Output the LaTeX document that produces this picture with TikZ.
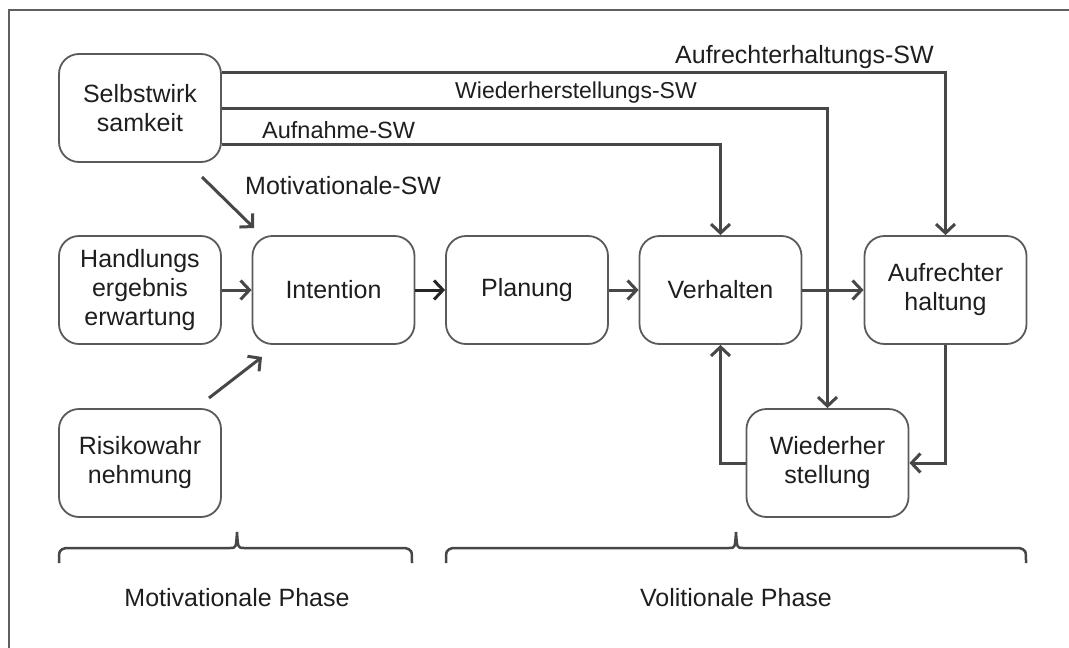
\documentclass[tikz,border=0pt]{standalone}
\usepackage{fontspec}
\setmainfont{Liberation Sans}
\usetikzlibrary{arrows.meta,calc}
\definecolor{linec}{HTML}{474747}
\definecolor{boxc}{HTML}{5A5A5A}
\definecolor{txtc}{HTML}{1E1E1E}
\definecolor{framec}{HTML}{606060}
\begin{document}
\begin{tikzpicture}[x=1pt,y=-1pt,
  box/.style={draw=boxc,line width=1.8pt,rounded corners=20pt,minimum width=162pt,minimum height=108pt,align=center,font=\fontsize{25}{29}\selectfont,text=txtc,inner sep=0pt},
  conn/.style={draw=linec,line width=3pt,-{Straight Barb[length=9pt,width=19pt]}},
  lbl/.style={font=\fontsize{25}{29}\selectfont,text=txtc,inner sep=0pt},
  phase/.style={font=\fontsize{25}{29}\selectfont,text=txtc,inner sep=0pt},
  brace/.style={draw=linec,line width=2.5pt}]
\useasboundingbox (0,0) rectangle (1069,648);
\draw[framec,line width=2pt] (9,648) -- (9,10) -- (1069,10);

\node[box] (sw) at (140,108) {Selbstwirk\\samkeit};
\node[box] (hand) at (140,290) {Handlungs\\ergebnis\\erwartung};
\node[box] (risk) at (140,463) {Risikowahr\\nehmung};
\node[box] (int) at (333.5,290) {Intention};
\node[box] (plan) at (527,290) {Planung};
\node[box] (verh) at (720.5,290) {Verhalten};
\node[box] (auf) at (945.5,290) {Aufrechter\\haltung};
\node[box] (wied) at (827.5,463) {Wiederher\\stellung};

% horizontal flow
\draw[conn] (hand) -- (int);
\draw[conn,draw=black!85] (int) -- (plan);
\draw[conn] (plan) -- (verh);
\draw[conn] (verh) -- (auf);

% self-efficacy lines
\draw[conn] ([yshift=36pt]sw.east) -| (auf.north);
\draw[conn] (sw.east) -| (wied.north);
\draw[conn] ([yshift=-36pt]sw.east) -| (verh.north);

% feedback
\draw[conn] (auf.south) |- (wied.east);
\draw[conn] (wied.west) -| (verh.south);

% diagonal arrows
\coordinate (msA) at (202,177);
\coordinate (msB) at (254,228);
\draw[conn] (msA) -- (msB);
\coordinate (rkA) at (209,398);
\coordinate (rkB) at (262,357);
\draw[conn] (rkA) -- (rkB);

% labels
\node[lbl,anchor=west] (lAuf) at (675,57) {Aufrechterhaltungs-SW};
\node[lbl,anchor=west,font=\fontsize{23}{27}\selectfont] (lWied) at (455,93) {Wiederherstellungs-SW};
\node[lbl,anchor=west,font=\fontsize{23.5}{27}\selectfont] (lAufn) at (262,130) {Aufnahme-SW};
\node[lbl,anchor=west] (lMot) at (245,186) {Motivationale-SW};

% braces
\draw[brace] (59,563) .. controls (59,550) .. (66,548) -- (230,548) .. controls (236,548) .. (237,532) .. controls (238,548) .. (244,548) -- (405,548) .. controls (412,550) .. (412,563);
\draw[brace] (446,563) .. controls (446,550) .. (453,548) -- (729,548) .. controls (735,548) .. (736,532) .. controls (737,548) .. (743,548) -- (1019,548) .. controls (1026,550) .. (1026,563);

\node[phase] (pMot) at (237,598) {Motivationale Phase};
\node[phase] (pVol) at (736,598) {Volitionale Phase};
\end{tikzpicture}
\end{document}
